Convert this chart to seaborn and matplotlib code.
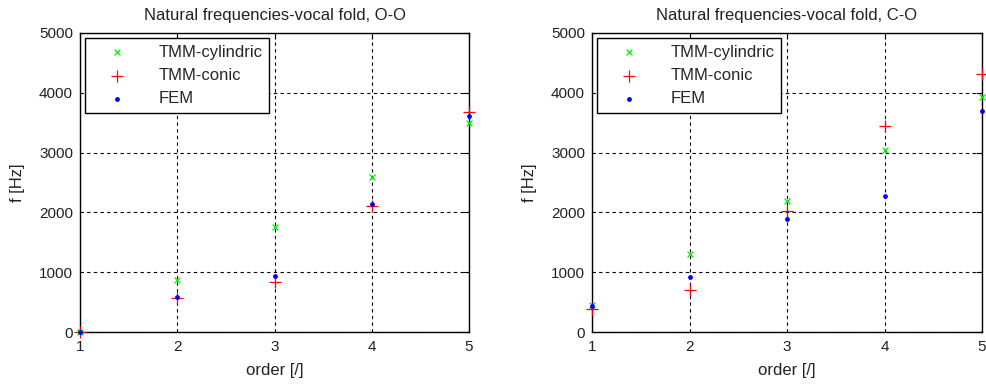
import matplotlib
matplotlib.use("Agg")
import matplotlib.pyplot as plt
import seaborn as sns
import pandas as pd

order = [1, 2, 3, 4, 5]
oo_cyl = [0, 875, 1750, 2600, 3495]
oo_con = [0, 570, 830, 2100, 3680]
oo_fem = [0, 580, 930, 2140, 3605]
co_cyl = [455, 1310, 2195, 3050, 3930]
co_con = [390, 700, 2020, 3440, 4320]
co_fem = [430, 915, 1895, 2270, 3690]
titles = ["Natural frequencies-vocal fold, O-O", "Natural frequencies-vocal fold, C-O"]
series_names = ["TMM-cylindric", "TMM-conic", "FEM"]

sns.set_style("white")
plt.rcParams['font.family'] = ['Liberation Sans', 'DejaVu Sans']
fs_tick = 11
fs_lab = 12

fig = plt.figure(figsize=(9.86, 3.85), dpi=100)
W, H = 986, 385
ax1 = fig.add_axes([80 / W, (H - 332) / H, 389 / W, 299 / H])
ax2 = fig.add_axes([592 / W, (H - 332) / H, 390 / W, 299 / H])

styles = [dict(marker="x", color="#00ee00", s=18, linewidth=0.9),
          dict(marker="+", color="#ff0000", s=80, linewidth=0.9),
          dict(marker="o", color="#0000ff", s=12, linewidth=0)]

for ax, data, title in [(ax1, (oo_cyl, oo_con, oo_fem), titles[0]),
                        (ax2, (co_cyl, co_con, co_fem), titles[1])]:
    for vals, name, st in zip(data, series_names, styles):
        df = pd.DataFrame({"order": order, "f": vals})
        sns.scatterplot(data=df, x="order", y="f", ax=ax, label=name,
                        clip_on=False, zorder=3, **st)
    ax.set_xlim(1, 5)
    ax.set_ylim(0, 5000)
    ax.set_xticks(order)
    ax.set_yticks(range(0, 5001, 1000))
    ax.tick_params(direction="in", labelsize=fs_tick, top=True, right=True, length=4,
                   width=0.8, color="black", labelcolor="#222222")
    ax.tick_params(axis="x", pad=6)
    ax.tick_params(axis="y", pad=5)
    ax.grid(True, color="black", linestyle=(0, (3, 3)), linewidth=0.8)
    for sp in ax.spines.values():
        sp.set_color("black")
        sp.set_linewidth(1.0)
    ax.set_title(title, fontsize=fs_lab, pad=9, color="#222222")
    ax.set_xlabel("order [/]", fontsize=fs_lab, labelpad=6, color="#222222")
    ax.set_ylabel("f [Hz]", fontsize=fs_lab, labelpad=10, color="#222222")
    leg = ax.legend(loc="upper left", fontsize=fs_lab, frameon=True, fancybox=False,
                    edgecolor="black", framealpha=1, borderpad=0.4,
                    handletextpad=1.0, labelspacing=0.5, borderaxespad=0.3,
                    handlelength=3.0, scatterpoints=1)
    leg.get_frame().set_linewidth(1.0)

fig.savefig("out.png", dpi=100)
